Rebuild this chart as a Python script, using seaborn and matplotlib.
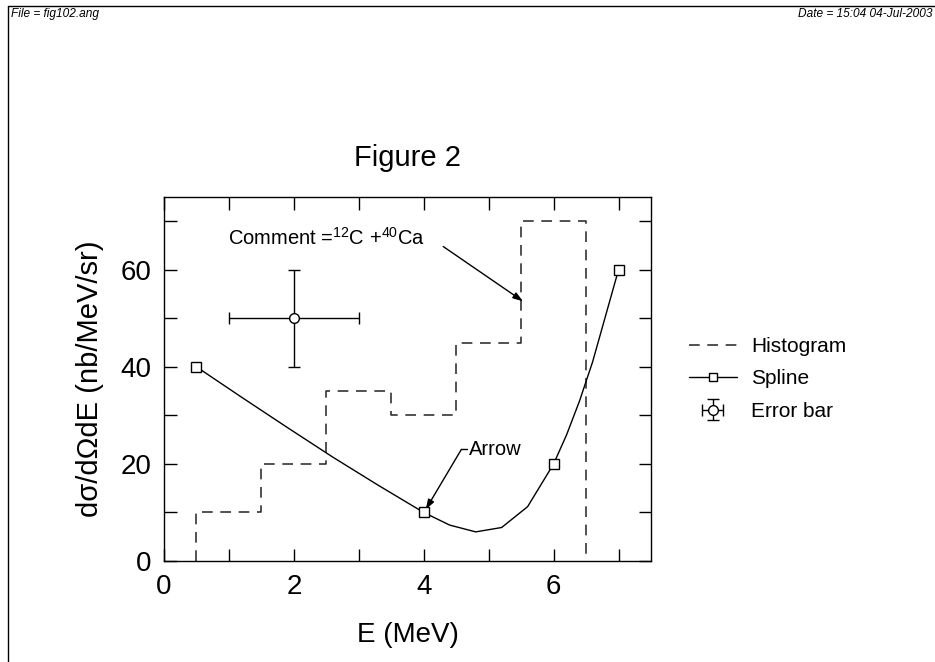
import numpy as np
import matplotlib
matplotlib.use("Agg")
import matplotlib.pyplot as plt
import seaborn as sns
import pandas as pd
from matplotlib.lines import Line2D

# ---- data ----
hist_edges = [0.5, 1.5, 2.5, 3.5, 4.5, 5.5, 6.5]
hist_values = [10, 20, 35, 30, 45, 70]
knot_x = [0.5, 4.0, 6.0, 7.0]
knot_y = [40, 10, 20, 60]
curve_x = [0.5, 1.2, 1.9, 2.6, 3.3, 4.0, 4.4, 4.8, 5.2, 5.6, 6.0, 6.2, 6.4, 6.6, 6.8, 7.0]
curve_y = [40, 33.7, 27.5, 21.4, 15.6, 10, 7.4, 6.0, 6.9, 11.2, 20, 26.0, 33.0, 41.0, 50.5, 60]
err_x, err_y, err_dx, err_dy = [2.0], [50.0], [1.0], [10.0]
x_ticks = [0, 2, 4, 6]
y_ticks = [0, 20, 40, 60]

sns.set_style("ticks")
plt.rcParams['font.family'] = ['Liberation Sans', 'DejaVu Sans']
plt.rcParams['mathtext.fontset'] = 'custom'
plt.rcParams['mathtext.rm'] = 'Liberation Sans'
for k in ['text.color', 'axes.labelcolor', 'xtick.color', 'ytick.color', 'axes.edgecolor']:
    plt.rcParams[k] = 'black'

fig = plt.figure(figsize=(9.35, 6.62), dpi=100)
ax = fig.add_axes([164/935, 1-561/662, 487/935, 364/662])

# histogram outline
hx, hy = [hist_edges[0]], [0]
for i, v in enumerate(hist_values):
    hx += [hist_edges[i], hist_edges[i+1]]
    hy += [v, v]
hx.append(hist_edges[-1]); hy.append(0)
hist_df = pd.DataFrame({"x": hx, "y": hy})
ax.plot(hist_df["x"], hist_df["y"], color="#222222", lw=1.1, dashes=(7, 5))

# spline
curve_df = pd.DataFrame({"x": curve_x, "y": curve_y})
sns.lineplot(data=curve_df, x="x", y="y", ax=ax, color="black", lw=1.0, sort=False, estimator=None)
knot_df = pd.DataFrame({"x": knot_x, "y": knot_y})
ax.plot(knot_df["x"], knot_df["y"], ls="none", marker="s", ms=7, mfc="white", mec="black", mew=1.0, zorder=5)

# error bar point
eb = ax.errorbar(err_x, err_y, xerr=err_dx, yerr=err_dy, fmt="o", ms=7, mfc="white", mec="black",
                 ecolor="black", elinewidth=1.0, capsize=4, capthick=1.0, color="black", zorder=5)

ax.set_xlim(0, 7.5)
ax.set_ylim(0, 75)
ax.set_xticks(x_ticks)
ax.set_yticks(y_ticks)
ax.set_xticks([1, 3, 5, 7], minor=True)
ax.set_yticks([10, 30, 50, 70], minor=True)
ax.tick_params(which="both", direction="in", top=True, right=True, length=9, width=1, color="black")
ax.tick_params(which="major", labelsize=20, pad=9)
ax.tick_params(axis="y", which="major", pad=9)
for s in ax.spines.values():
    s.set_visible(True); s.set_linewidth(1.0); s.set_color("black")
ax.set_xlabel("E (MeV)", fontsize=20, labelpad=16)
ax.set_ylabel("dσ/dΩdE (nb/MeV/sr)", fontsize=21, labelpad=12)
ax.set_title("Figure 2", fontsize=21, pad=22)

# annotations
ax.text(0.98, 66.5, r"Comment =$^{12}$C +$^{40}$Ca", fontsize=14.5, ha="left", va="center")
ax.annotate("", xy=(5.53, 53.5), xytext=(4.3, 64.8),
            arrowprops=dict(arrowstyle="-|>,head_length=0.6,head_width=0.2", color="black", lw=1.0, shrinkA=0, shrinkB=0))
ax.text(4.7, 23.0, "Arrow", fontsize=14.5, ha="left", va="center")
ax.plot([4.67, 4.58], [23.0, 23.0], color="black", lw=1.0)
ax.annotate("", xy=(4.03, 10.6), xytext=(4.58, 23.0),
            arrowprops=dict(arrowstyle="-|>,head_length=0.6,head_width=0.2", color="black", lw=1.0, shrinkA=0, shrinkB=0))

# legend
h_hist = Line2D([], [], color="#222222", lw=1.1, dashes=(7, 5))
h_spl = Line2D([], [], color="black", lw=1.0, marker="s", ms=6, mfc="white", mec="black")
fig.legend([h_hist, h_spl, eb], ["Histogram", "Spline", "Error bar"], loc="center left",
           bbox_to_anchor=(670/935, 1-379/662), frameon=False, fontsize=15,
           handlelength=2.3, labelspacing=0.65, handletextpad=0.7)

# page frame & header
fig.add_artist(Line2D([8/935, 1], [1-6/662, 1-6/662], transform=fig.transFigure, color="black", lw=1))
fig.add_artist(Line2D([8/935, 8/935], [0, 1-6/662], transform=fig.transFigure, color="black", lw=1))
fig.text(11/935, 1-14/662, "File = fig102.ang", fontsize=8.6, style="italic", ha="left", va="center")
fig.text(933/935, 1-14/662, "Date = 15:04 04-Jul-2003", fontsize=8.6, style="italic", ha="right", va="center")

fig.savefig("out.png", dpi=100, facecolor="white")
